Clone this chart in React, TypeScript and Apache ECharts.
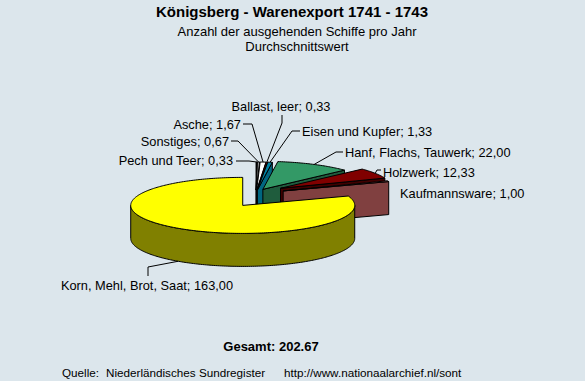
import React, { useEffect, useRef } from "react";
import * as echarts from "echarts";

// ---- data ----
const categories = [
  "Pech und Teer",
  "Sonstiges",
  "Asche",
  "Ballast, leer",
  "Eisen und Kupfer",
  "Hanf, Flachs, Tauwerk",
  "Holzwerk",
  "Kaufmannsware",
  "Korn, Mehl, Brot, Saat",
];
const values = [0.33, 0.67, 1.67, 0.33, 1.33, 22.0, 12.33, 1.0, 163.0];
const totalText = "Gesamt: 202.67";

// ---- styles / layout ----
const topColors = ["#000000", "#969696", "#FFFFFF", "#FF0000", "#0080A0", "#339966", "#800000", "#FF8080", "#FFFF00"];
const sideColors = ["#000000", "#4B4B4B", "#808080", "#800000", "#006680", "#1F5C3D", "#400000", "#804040", "#808000"];
const explodePx = [12, 12, 12, 12, 12, 15, 29, 29, 23];

const GEO = { cx: 256, cy: 196, rx: 112, ry: 28, depth: 33, k: 0.5, start: 90 };

type LabelLayout = { x: number; y: number; align: string; path: number[][] | null };
const labelLayout: LabelLayout[] = [
  { x: 233, y: 160, align: "right", path: [[236, 161], [249, 161]] },
  { x: 229, y: 141, align: "right", path: [[231, 141], [238, 141]] },
  { x: 241, y: 124, align: "right", path: [[243, 124], [252, 124]] },
  { x: 281, y: 106, align: "center", path: [[282, 115], [282, 123]] },
  { x: 302, y: 131, align: "left", path: [[300, 131], [292, 131]] },
  { x: 345, y: 152, align: "left", path: [[343, 152], [336, 152]] },
  { x: 383, y: 172, align: "left", path: [[381, 170], [377, 170]] },
  { x: 400, y: 193, align: "left", path: null },
  { x: 147, y: 285, align: "center", path: [[148, 276], [148, 267]] },
];

const FONT = '"Liberation Sans", Arial, sans-serif';
const LABEL_SIZE = 12.8;

const rad = (d: number) => (d * Math.PI) / 180;

function buildGeometry() {
  const total = values.reduce((a, b) => a + b, 0);
  let a = GEO.start;
  return values.map((v, i) => {
    const hi = a;
    const lo = a - (v / total) * 360;
    a = lo;
    const mid = (hi + lo) / 2;
    const e = explodePx[i];
    const cx = GEO.cx + e * Math.cos(rad(mid));
    const cy = GEO.cy - e * GEO.k * Math.sin(rad(mid));
    return { hi, lo, mid, cx, cy };
  });
}

function renderItemFactory() {
  const geo = buildGeometry();
  const order = geo
    .map((g, i) => ({ i, s: Math.sin(rad(g.mid)) }))
    .sort((p, q) => q.s - p.s)
    .map((p) => p.i);
  const rank: number[] = [];
  order.forEach((idx, r) => (rank[idx] = r));

  return (params: any, api: any) => {
    const i = params.dataIndex;
    const v = api.value(0);
    const g = geo[i];
    const D = GEO.depth;
    const P = (t: number, dy = 0) => [g.cx + GEO.rx * Math.cos(rad(t)), g.cy - GEO.ry * Math.sin(rad(t)) + dy];
    const arc = (a0: number, a1: number, dy = 0) => {
      const n = Math.max(2, Math.ceil(Math.abs(a1 - a0) / 1));
      const pts: number[][] = [];
      for (let j = 0; j <= n; j++) pts.push(P(a0 + ((a1 - a0) * j) / n, dy));
      return pts;
    };
    const base = rank[i] * 10;
    const stroke = { stroke: "#000", lineWidth: 1, lineJoin: "round" };
    const children: any[] = [];

    // radial walls
    const wall = (t: number) => [[g.cx, g.cy], P(t), P(t, D), [g.cx, g.cy + D]];
    if (Math.cos(rad(g.lo)) > 0.001) {
      children.push({ type: "polygon", z2: base, shape: { points: wall(g.lo) }, style: { fill: sideColors[i], ...stroke } });
    }
    if (Math.cos(rad(g.hi)) < -0.001) {
      children.push({ type: "polygon", z2: base, shape: { points: wall(g.hi) }, style: { fill: sideColors[i], ...stroke } });
    }
    // outer side (front-facing part)
    for (let kk = -1; kk <= 1; kk++) {
      const f0 = -180 + 360 * kk;
      const f1 = 0 + 360 * kk;
      const a0 = Math.max(g.lo, f0);
      const a1 = Math.min(g.hi, f1);
      if (a1 - a0 > 0.01) {
        const top = arc(a0, a1);
        const bot = arc(a1, a0, D);
        children.push({ type: "polygon", z2: base + 1, shape: { points: top.concat(bot) }, style: { fill: sideColors[i], ...stroke } });
      }
    }
    // top face
    const topPts = [[g.cx, g.cy]].concat(arc(g.hi, g.lo));
    children.push({ type: "polygon", z2: base + 2, shape: { points: topPts }, style: { fill: topColors[i], ...stroke } });

    // label
    const L = labelLayout[i];
    const txt = `${categories[i]}; ${v.toFixed(2).replace(".", ",")}`;
    children.push({
      type: "text",
      z2: 1000,
      style: {
        text: txt,
        x: L.x,
        y: L.y,
        fill: "#000",
        font: `${LABEL_SIZE}px ${FONT}`,
        align: L.align,
        verticalAlign: "middle",
        textAlign: L.align,
        textVerticalAlign: "middle",
      },
    });
    if (L.path) {
      const front = Math.sin(rad(g.mid)) < 0;
      const anchor = P(g.mid, front ? D : 0);
      children.push({
        type: "polyline",
        z2: 999,
        shape: { points: L.path.concat([anchor]) },
        style: { stroke: "#000", lineWidth: 1, fill: null },
      });
    }
    return { type: "group", children };
  };
}

export default function App() {
  const ref = useRef<HTMLDivElement>(null);
  useEffect(() => {
    if (!ref.current) return;
    const chart = echarts.init(ref.current, undefined, { renderer: "svg" });
    const txt = (text: string, x: number, y: number, size: number, bold = false, align = "center") => ({
      type: "text",
      style: {
        text,
        x,
        y,
        fill: "#000",
        font: `${bold ? "bold " : ""}${size}px ${FONT}`,
        align,
        verticalAlign: "middle",
        textAlign: align,
        textVerticalAlign: "middle",
      },
    });
    chart.setOption({
      animation: false,
      backgroundColor: "#DCE6EC",
      graphic: [
        txt("Königsberg - Warenexport 1741 - 1743", 292, 11, 15, true),
        txt("Anzahl der ausgehenden Schiffe pro Jahr", 297, 31, 13),
        txt("Durchschnittswert", 297, 46, 13),
        txt(totalText, 271, 346, 13, true),
        txt("Quelle:", 62, 372, 11.7, false, "left"),
        txt("Niederländisches Sundregister", 106, 372, 11.7, false, "left"),
        txt("http://www.nationaalarchief.nl/sont", 284, 372, 11.7, false, "left"),
      ],
      series: [
        {
          type: "custom",
          coordinateSystem: "none",
          silent: true,
          renderItem: renderItemFactory(),
          data: values,
        },
      ],
    });
    return () => chart.dispose();
  }, []);
  return <div ref={ref} style={{ position: "fixed", left: 0, top: 0, width: 585, height: 381 }} />;
}
